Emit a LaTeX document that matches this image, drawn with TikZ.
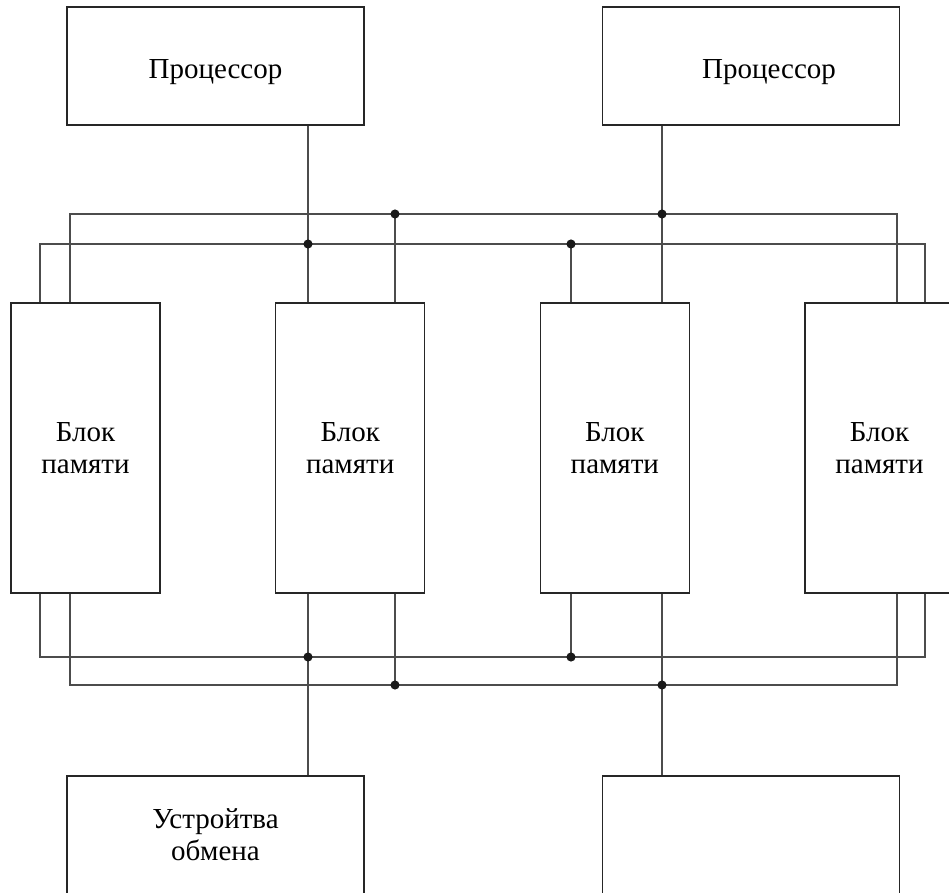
\documentclass[tikz,border=0pt]{standalone}
\usepackage{fontspec}
\setmainfont{Liberation Serif}
\usepackage{tikz}
\usetikzlibrary{positioning}

\begin{document}
\begin{tikzpicture}[x=0.02cm, y=-0.02cm, node distance=2.29cm,
        every node/.style={font=\fontsize{16.5}{18}\selectfont, align=center},
        procbox/.style={draw=black!85, line width=0.7pt, rectangle, minimum width=5.94cm, minimum height=2.36cm},
        membox/.style={draw=black!85, line width=0.7pt, rectangle, minimum width=2.98cm, minimum height=5.8cm},
        wire/.style={draw=black!70, line width=0.7pt},
        junction/.style={fill=black!90}]
        \useasboundingbox (0,0) rectangle (949,892);

        % Nodes
        \node (pr1) [procbox, label={[yshift=-0.12cm]center:Процессор}] at (215.5,66) {};
        \node (pr2) [procbox, label={[xshift=0.36cm, yshift=-0.12cm]center:Процессор}] at (751,66) {};
        \node (m1) [membox] at (85.5,448) {Блок\\памяти};
        \node (m2) [membox, right=of m1] {Блок\\памяти};
        \node (m3) [membox, right=of m2] {Блок\\памяти};
        \node (m4) [membox, right=of m3] {Блок\\памяти};
        \node (dv1) [procbox] at (215.5,835) {Устройтва\\обмена};
        \node (dv2) [procbox] at (751,835) {};

        % Bus levels and taps
        \coordinate (ta) at (0,214);
        \coordinate (tb) at (0,244);
        \coordinate (bc) at (0,657);
        \coordinate (bd) at (0,685);
        \coordinate (x1) at (40,0);
        \coordinate (x2) at (70,0);
        \coordinate (x3) at (308,0);
        \coordinate (x4) at (395,0);
        \coordinate (x5) at (571,0);
        \coordinate (x6) at (662,0);
        \coordinate (x7) at (897,0);
        \coordinate (x8) at (925,0);

        % Upper buses
        \draw[wire] (m1.north -| x2) -- (x2 |- ta) -- (x7 |- ta) -- (m4.north -| x7);
        \draw[wire] (m1.north -| x1) -- (x1 |- tb) -- (x8 |- tb) -- (m4.north -| x8);
        \draw[wire] (pr1.south -| x3) -- (m2.north -| x3);
        \draw[wire] (x4 |- ta) -- (m2.north -| x4);
        \draw[wire] (x5 |- tb) -- (m3.north -| x5);
        \draw[wire] (pr2.south -| x6) -- (m3.north -| x6);

        % Lower buses
        \draw[wire] (m1.south -| x1) -- (x1 |- bc) -- (x8 |- bc) -- (m4.south -| x8);
        \draw[wire] (m1.south -| x2) -- (x2 |- bd) -- (x7 |- bd) -- (m4.south -| x7);
        \draw[wire] (m2.south -| x3) -- (dv1.north -| x3);
        \draw[wire] (m2.south -| x4) -- (x4 |- bd);
        \draw[wire] (m3.south -| x5) -- (x5 |- bc);
        \draw[wire] (m3.south -| x6) -- (dv2.north -| x6);

        % Junctions
        \foreach \p in {x4 |- ta, x6 |- ta, x3 |- tb, x5 |- tb,
                        x3 |- bc, x5 |- bc, x4 |- bd, x6 |- bd}
            \fill[junction] (\p) circle (2.6pt);
    \end{tikzpicture}
\end{document}
